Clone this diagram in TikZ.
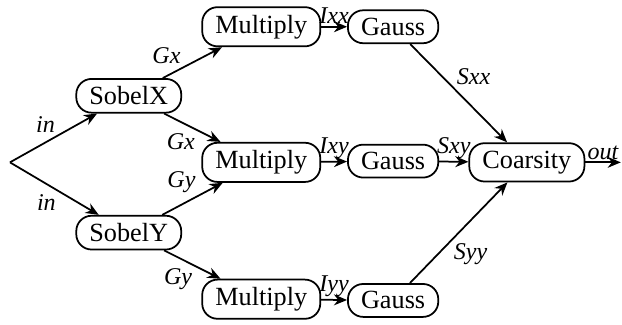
\documentclass[tikz,border=0pt]{standalone}
\usepackage{fontspec}
\newfontfamily\diagfont{Liberation Serif}
\usetikzlibrary{arrows.meta}

\begin{document}
\diagfont
\begin{tikzpicture}[
    block/.style={draw, thick, rounded corners=7pt, inner xsep=6pt, inner ysep=3.5pt, execute at begin node={\diagfont\fontsize{12}{14}\selectfont}},
    flow/.style={thick, -{Stealth[length=6pt, width=5pt]}},
    lbl/.style={inner sep=1pt, execute at begin node={\diagfont\fontsize{11}{13}\selectfont\itshape}}
]
    \useasboundingbox (0,0) rectangle (10,5.21);

    % input and output
    \coordinate (in) at (0.16,2.60);
    \coordinate (out) at (9.98,2.60);

    % gradient stage
    \node[block] (sobelx) at (2.07,3.67) {SobelX};
    \node[block] (sobely) at (2.07,1.47) {SobelY};

    % products
    \node[block] (multxx) at (4.20,4.78) {Multiply};
    \node[block] (multxy) at (4.20,2.60) {Multiply};
    \node[block] (multyy) at (4.20,0.40) {Multiply};

    % smoothing
    \node[block] (gaussxx) at (6.32,4.78) {Gauss};
    \node[block] (gaussxy) at (6.32,2.62) {Gauss};
    \node[block] (gaussyy) at (6.32,0.38) {Gauss};

    \node[block] (coarsity) at (8.47,2.60) {Coarsity};

    \draw[flow] (in) -- node[lbl, pos=0.55, above left] {in} (sobelx);
    \draw[flow] (in) -- node[lbl, pos=0.55, below left] {in} (sobely);

    \draw[flow] (sobelx) -- node[lbl, pos=0.35, above left] {Gx} (multxx);
    \draw[flow] (sobelx) -- node[lbl, pos=0.6, below left] {Gx} (multxy);
    \draw[flow] (sobely) -- node[lbl, pos=0.6, above left] {Gy} (multxy);
    \draw[flow] (sobely) -- node[lbl, pos=0.55, below left] {Gy} (multyy);

    \draw[flow] (multxx) -- node[lbl, above] {Ixx} (gaussxx);
    \draw[flow] (multxy) -- node[lbl, above] {Ixy} (gaussxy);
    \draw[flow] (multyy) -- node[lbl, above] {Iyy} (gaussyy);

    \draw[flow] (gaussxx) -- node[lbl, pos=0.45, above right] {Sxx} (coarsity);
    \draw[flow] (gaussxy) -- node[lbl, above] {Sxy} (coarsity);
    \draw[flow] (gaussyy) -- node[lbl, pos=0.42, below right] {Syy} (coarsity);

    \draw[flow] (coarsity) -- node[lbl, above] {out} (out);
\end{tikzpicture}
\end{document}
